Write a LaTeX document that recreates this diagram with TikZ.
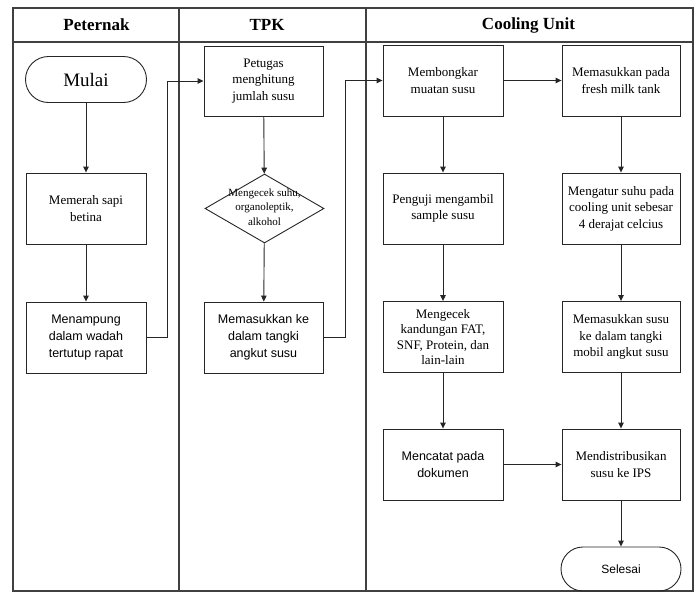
\documentclass[tikz,border=0pt]{standalone}
\usepackage{fontspec}
\setmainfont{Liberation Serif}
\setsansfont{Liberation Sans}
\usetikzlibrary{arrows.meta,shapes.geometric}
\begin{document}
\begin{tikzpicture}[x=1pt,y=-1pt,
  box/.style={draw=black!85,line width=0.9pt,inner sep=0pt,minimum width=120pt,minimum height=71pt,align=center,font=\fontsize{13}{16.5}\selectfont},
  sbox/.style={box,font=\sffamily\fontsize{12.5}{17}\selectfont},
  term/.style={draw=black!85,line width=0.9pt,inner sep=0pt,minimum width=121pt,minimum height=46pt,rounded corners=23pt,align=center},
  dia/.style={draw=black!85,line width=0.9pt,diamond,inner sep=0pt,minimum width=119pt,minimum height=69pt},
  head/.style={font=\bfseries\fontsize{17}{19}\selectfont},
  frame/.style={draw=black!75,line width=1.4pt},
  arr/.style={draw=black!85,line width=0.9pt,-{Triangle[length=6pt,width=5.5pt]}}
]
\useasboundingbox (0,0) rectangle (699,595);
% frame
\draw[frame] (13,8) rectangle (693,591);
\draw[frame] (13,42) -- (693,42);
\draw[frame] (179,8) -- (179,591);
\draw[frame] (366,8) -- (366,591);
\node[head] (h1) at (96.5,25) {Peternak};
\node[head] (h2) at (267,25) {TPK};
\node[head] (h3) at (528.5,25) {Cooling Unit};
% Peternak
\node[term,font=\fontsize{19}{21}\selectfont] (mulai) at (86,79.5) {Mulai};
\node[box] (memerah) at (86,208.5) {Memerah sapi\\betina};
\node[sbox] (menampung) at (86,337.5) {Menampung\\dalam wadah\\tertutup rapat};
% TPK
\node[box,minimum width=119pt,minimum height=70pt] (petugas) at (263.5,81) {Petugas\\menghitung\\jumlah susu};
\node[dia] (cek) at (264.5,208.5) {};
\node[align=center,inner sep=0pt,font=\fontsize{11}{14.5}\selectfont] (cektext) at (264.5,207) {Mengecek suhu,\\organoleptik,\\alkohol};
\node[sbox,minimum width=119pt] (masukke) at (263.5,337.5) {Memasukkan ke\\dalam tangki\\angkut susu};
% Cooling Unit
\node[box] (bongkar) at (443,80.5) {Membongkar\\muatan susu};
\node[box,minimum width=118pt] (fresh) at (621,80.5) {Memasukkan pada\\fresh milk tank};
\node[box] (penguji) at (443,208.5) {Penguji mengambil\\sample susu};
\node[box,minimum width=118pt] (atur) at (621,208.5) {Mengatur suhu pada\\cooling unit sebesar\\4 derajat celcius};
\node[box,font=\fontsize{13}{15.5}\selectfont] (kandungan) at (443,337) {Mengecek\\kandungan FAT,\\SNF, Protein, dan\\lain-lain};
\node[box,minimum width=118pt] (mobil) at (621,337) {Memasukkan susu\\ke dalam tangki\\mobil angkut susu};
\node[sbox] (catat) at (443,464.5) {Mencatat pada\\dokumen};
\node[box,minimum width=118pt] (distrib) at (621,464.5) {Mendistribusikan\\susu ke IPS};
\node[term,minimum width=120pt,minimum height=44pt,rounded corners=22pt,font=\sffamily\fontsize{12}{14}\selectfont] (selesai) at (621,569) {Selesai};
% connectors
\draw[arr] (mulai) -- (memerah);
\draw[arr] (memerah) -- (menampung);
\draw[arr] (menampung.east) -- ++(21,0) |- (petugas.west);
\draw[arr] (petugas) -- (cek);
\draw[arr] (cek) -- (masukke);
\draw[arr] (masukke.east) -- ++(22,0) |- (bongkar.west);
\draw[arr] (bongkar) -- (fresh);
\draw[arr] (bongkar) -- (penguji);
\draw[arr] (penguji) -- (kandungan);
\draw[arr] (kandungan) -- (catat);
\draw[arr] (fresh) -- (atur);
\draw[arr] (atur) -- (mobil);
\draw[arr] (mobil) -- (distrib);
\draw[arr] (catat) -- (distrib);
\draw[arr] (distrib) -- (selesai);
\end{tikzpicture}
\end{document}
